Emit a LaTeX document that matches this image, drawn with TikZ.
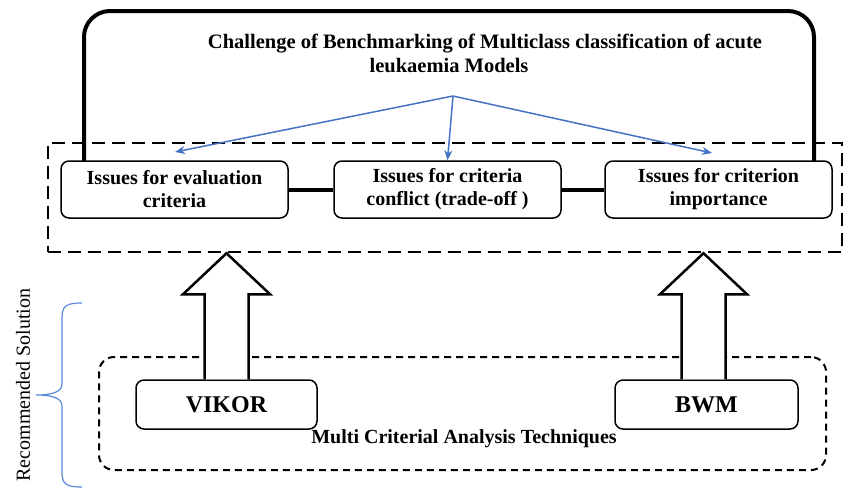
\documentclass[tikz,border=0pt]{standalone}
\usepackage{fontspec}
\setmainfont{Liberation Serif}
\usetikzlibrary{arrows.meta,calc}

\definecolor{linkblue}{HTML}{4472C4}
\definecolor{braceblue}{HTML}{5B8BD6}

% hollow block arrow: #1 = middle of the shaft foot, #2 = tip
\newcommand\hollowarrow[2]{%
  \filldraw[hollow] ($(#1)+(-22,0)$) -- ($(#1)+(-22,-85)$) -- ($(#1)+(-43.5,-85)$)
    -- (#2) -- ($(#1)+(43.5,-85)$) -- ($(#1)+(22,-85)$) -- ($(#1)+(22,0)$);}

\begin{document}
\begin{tikzpicture}[x=1pt,y=-1pt,
  issuebox/.style={draw,line width=1.5pt,rounded corners=8pt,minimum width=227pt,
    minimum height=57pt,inner sep=0pt,align=center,
    font=\fontsize{20}{23}\selectfont\bfseries},
  methodbox/.style={draw,line width=1.5pt,rounded corners=8pt,minimum height=49pt,
    inner sep=0pt,font=\fontsize{24}{28}\selectfont\bfseries},
  frame/.style={line width=4pt,rounded corners=26pt},
  link/.style={line width=4pt},
  bluearrow/.style={draw=linkblue,line width=1.5pt,-{Stealth[length=10pt,width=8pt]}},
  hollow/.style={draw,fill=white,line width=2.5pt,line join=miter},
  titletext/.style={font=\fontsize{20.5}{24}\selectfont\bfseries,inner sep=0pt,anchor=base}]

\useasboundingbox (0,0) rectangle (845,488);

% outer frame joining the first and last issue
\coordinate (fl) at (84,161);
\coordinate (fr) at (814,161);
\draw[frame] (fl) -- (84,11) -- (814,11) -- (fr);

% title
\node[titletext] (title1) at (485,48) {Challenge of Benchmarking of Multiclass classification of acute};
\node[titletext] (title2) at (449,72) {leukaemia Models};

% dashed group of issues
\node[draw,dashed,line width=2.5pt,dash pattern=on 13pt off 7pt,minimum width=794pt,
  minimum height=109pt,inner sep=0pt] (issues) at (445,197.5) {};

% issue boxes
\node[issuebox,fill=white] (eval) at (174.5,189.5) {Issues for evaluation\\criteria};
\node[issuebox,fill=white] (conf) at (447.5,189.5) {Issues for criteria\\conflict (trade-off )};
\node[issuebox,fill=white] (imp)  at (718.5,189.5) {Issues for criterion\\importance};

\draw[link] (eval.east) -- (conf.west);
\draw[link] (conf.east) -- (imp.west);

% blue arrows from the title
\coordinate (src) at (453,96);
\coordinate (evaltip) at (175,152);
\coordinate (imptip) at (712,153);
\draw[bluearrow] (src) -- (evaltip);
\draw[bluearrow] (src) -- (conf.north);
\draw[bluearrow] (src) -- (imptip);

% dashed group of techniques
\node[draw,dashed,line width=2pt,dash pattern=on 7pt off 5pt,rounded corners=15pt,
  minimum width=727pt,minimum height=113pt,inner sep=0pt] (mcda) at (462.5,413.5) {};
\node[font=\fontsize{20}{24}\selectfont\bfseries,anchor=base,inner sep=0pt] (mcdalabel)
  at (464,443) {Multi Criterial Analysis Techniques};

% techniques
\node[methodbox,minimum width=181pt,fill=white] (vikor) at (226.5,404.5) {VIKOR};
\node[methodbox,minimum width=183pt,fill=white] (bwm)   at (706.5,404.5) {BWM};

% block arrows up to the issues
\coordinate (foot1) at (vikor.north);
\coordinate (foot2) at ($(bwm.north)+(-3,0)$);
\hollowarrow{foot1}{foot1 |- issues.south}
\hollowarrow{foot2}{foot2 |- issues.south}

% brace and side label
\draw[braceblue,line width=1.2pt] (82,303) .. controls (66,303) and (62,306) .. (62,318)
  -- (62,384) .. controls (62,392) and (52,395) .. (36,395)
  .. controls (52,395) and (62,398) .. (62,406)
  -- (62,472) .. controls (62,484) and (66,487) .. (82,487);
\node[rotate=90,font=\fontsize{20}{24}\selectfont,inner sep=0pt] (recsol) at (23,385)
  {Recommended Solution};

\end{tikzpicture}
\end{document}
